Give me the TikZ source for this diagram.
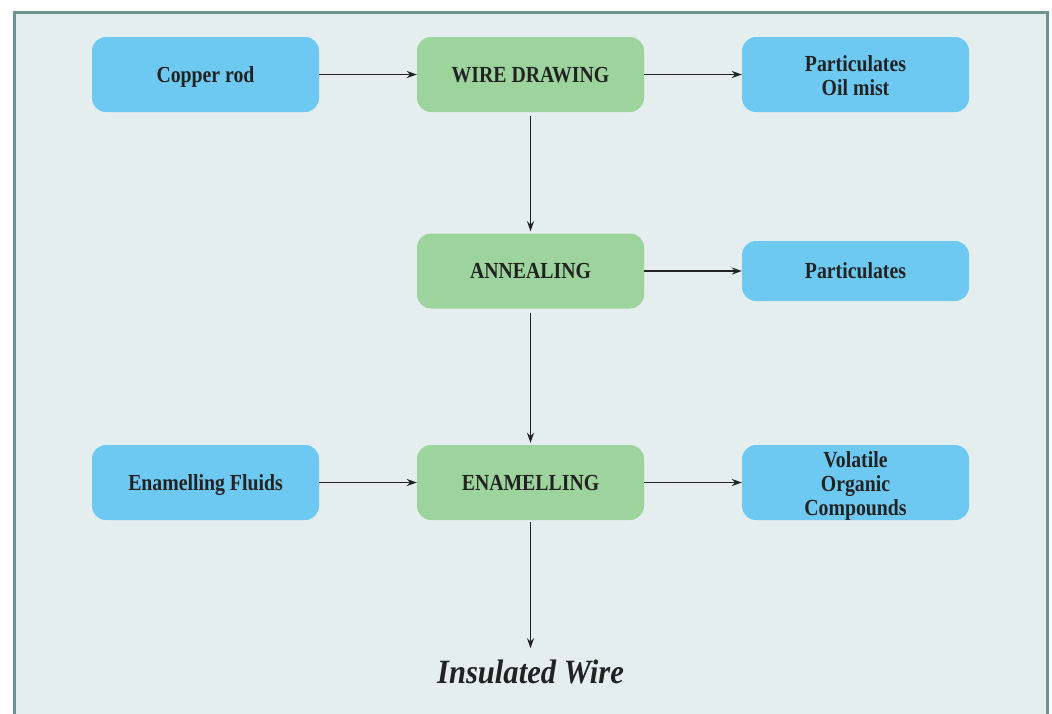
\documentclass[tikz,border=0pt]{standalone}
\usepackage{fontspec}
\setmainfont{Liberation Serif}[FakeStretch=0.86]
\newfontfamily\titlefont{Liberation Serif}[FakeStretch=0.9]
\usetikzlibrary{arrows.meta}
\definecolor{boxblue}{HTML}{6DC9F2}
\definecolor{boxgreen}{HTML}{9DD49D}
\definecolor{bgfill}{HTML}{E5EEEE}
\definecolor{framecol}{HTML}{6E9393}
\definecolor{txt}{HTML}{222222}
\begin{document}
\begin{tikzpicture}[x=1pt,y=-1pt,
  box/.style={rounded corners=14pt, minimum width=227pt, minimum height=75pt, inner sep=0pt,
    text=txt, font=\fontsize{23}{24}\selectfont\bfseries, align=center},
  oneline/.style={text height=16pt, text depth=1pt},
  bluebox/.style={box, fill=boxblue},
  greenbox/.style={box, fill=boxgreen},
  conn/.style={draw=txt, line width=1.4pt, -{Stealth[length=10pt,width=7pt]}},
  vconn/.style={conn, shorten <=4pt, shorten >=2pt}]
\clip (0,0) rectangle (1052,713);
\fill[white] (0,0) rectangle (1052,713);
\draw[fill=bgfill, draw=framecol, line width=3pt] (14,12) rectangle (1047,760);

\node[bluebox, oneline] (copper) at (205.5,74.5) {Copper rod};
\node[greenbox, oneline] (wire) at (530.5,74.5) {WIRE DRAWING};
\node[bluebox, text height=41pt, text depth=0pt] (partoil) at (855.5,74.5) {Particulates\\Oil mist};
\node[greenbox, oneline] (anneal) at (530.5,271) {ANNEALING};
\node[bluebox, oneline, minimum height=60pt] (part) at (855.5,271) {Particulates};
\node[bluebox, oneline] (fluids) at (205.5,482.5) {Enamelling Fluids};
\node[greenbox, oneline] (enamel) at (530.5,482.5) {ENAMELLING};
\node[bluebox, text height=65pt, text depth=0pt] (voc) at (855.5,482.5) {Volatile\\Organic\\Compounds};
\node[anchor=base, inner sep=0pt, text=txt, font=\titlefont\fontsize{34}{36}\selectfont\bfseries\itshape] (insul) at (530.5,683) {Insulated Wire};

\draw[conn] (copper) -- (wire);
\draw[conn] (wire) -- (partoil);
\draw[conn] (anneal) -- (part);
\draw[conn] (fluids) -- (enamel);
\draw[conn] (enamel) -- (voc);
\draw[vconn] (wire) -- (anneal);
\draw[vconn] (anneal) -- (enamel);
\draw[conn, shorten <=2pt, shorten >=11pt] (enamel.south) -- (insul.north);
\end{tikzpicture}
\end{document}
